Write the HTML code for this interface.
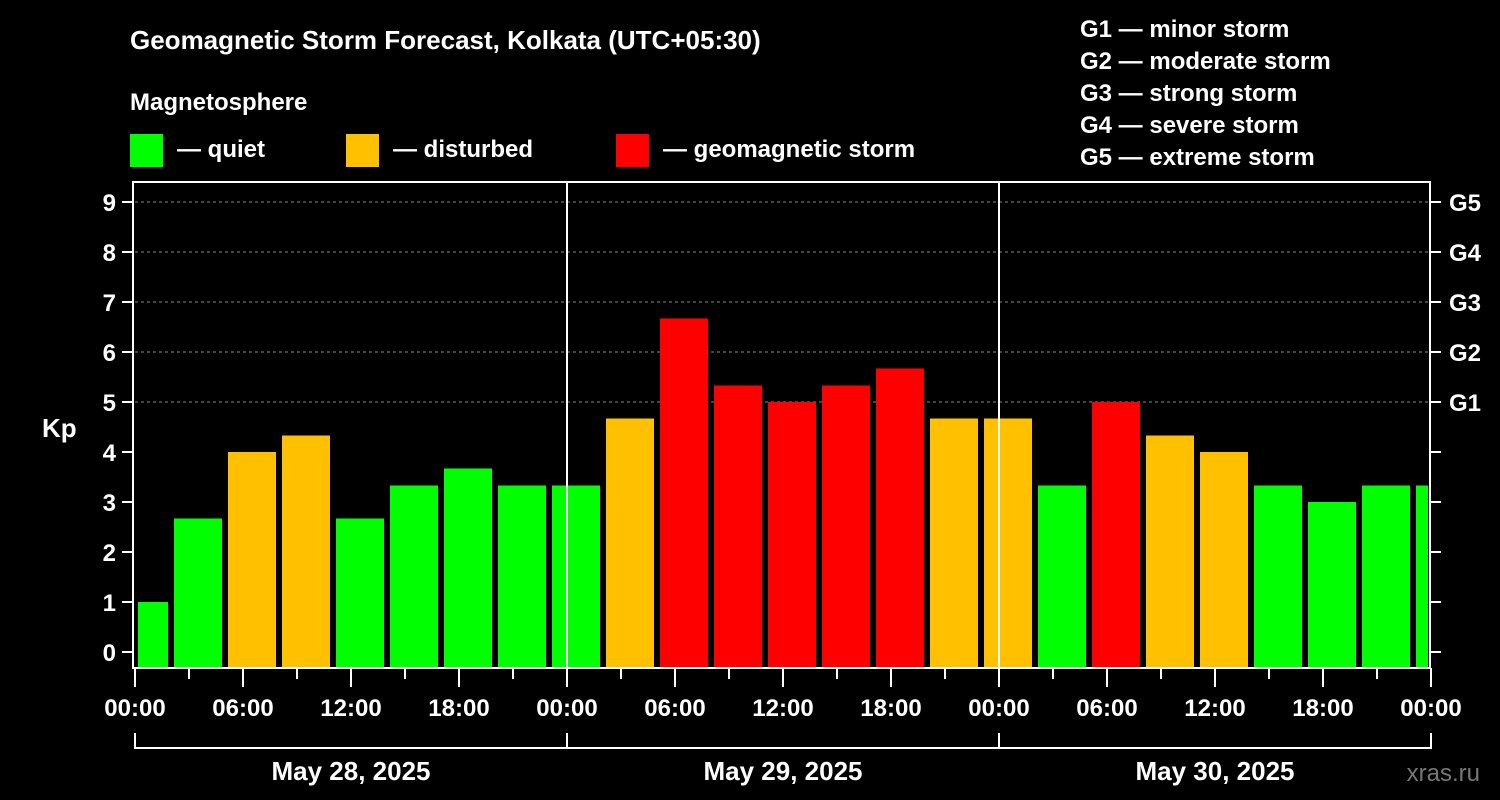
<!DOCTYPE html>
<html><head><meta charset="utf-8"><style>
html,body{margin:0;padding:0;background:#000;}
svg{display:block;font-family:"Liberation Sans",Arial,sans-serif;font-weight:bold;}
</style></head><body>
<svg id="chart" width="1500" height="800" viewBox="0 0 1500 800">
<rect x="0" y="0" width="1500" height="800" fill="#000"/>
<text x="130" y="49" font-size="26" fill="#fff">Geomagnetic Storm Forecast, Kolkata (UTC+05:30)</text>
<text x="130" y="110" font-size="24" fill="#fff">Magnetosphere</text>
<g><rect x="130" y="134" width="33" height="33" fill="#00ff00"/><text x="177" y="157" font-size="24" fill="#fff">— quiet</text></g>
<g><rect x="346" y="134" width="33" height="33" fill="#ffc000"/><text x="393" y="157" font-size="24" fill="#fff">— disturbed</text></g>
<g><rect x="616" y="134" width="33" height="33" fill="#ff0000"/><text x="663" y="157" font-size="24" fill="#fff">— geomagnetic storm</text></g>
<g font-size="24" fill="#fff">
<text x="1080" y="37">G1 — minor storm</text>
<text x="1080" y="69">G2 — moderate storm</text>
<text x="1080" y="101">G3 — strong storm</text>
<text x="1080" y="133">G4 — severe storm</text>
<text x="1080" y="165">G5 — extreme storm</text>
</g>
<text x="42" y="437" font-size="26" fill="#fff">Kp</text>
<text x="1480" y="781" font-size="24" fill="#777" text-anchor="end" font-weight="normal">xras.ru</text>
<g id="plot"></g>
</svg>
<script>
const kpValues = [1.0, 2.67, 4.0, 4.33, 2.67, 3.33, 3.67, 3.33, 3.33, 4.67, 6.67, 5.33, 5.0, 5.33, 5.67, 4.67, 4.67, 3.33, 5.0, 4.33, 4.0, 3.33, 3.0, 3.33, 3.33];
const slotStartHours = [-1, 2, 5, 8, 11, 14, 17, 20, 23, 26, 29, 32, 35, 38, 41, 44, 47, 50, 53, 56, 59, 62, 65, 68, 71];
const yTicks = [0,1,2,3,4,5,6,7,8,9];
const gLabels = ["G1","G2","G3","G4","G5"];
const hourLabels = ["00:00","06:00","12:00","18:00","00:00","06:00","12:00","18:00","00:00","06:00","12:00","18:00","00:00"];
const dayLabels = ["May 28, 2025","May 29, 2025","May 30, 2025"];

const NS="http://www.w3.org/2000/svg";
const X0=135, X1=1431, PT=182, PB=668, totalH=72;
const x = h => X0 + (h/totalH)*(X1-X0);
const y = v => 652 - v*50;
const g=document.getElementById('plot');
function mk(tag, attrs){const e=document.createElementNS(NS,tag);for(const k in attrs)e.setAttribute(k,attrs[k]);g.appendChild(e);return e;}

// grid lines
for(let v=5; v<=9; v++){
  const l=mk('line',{x1:X0,x2:X1,y1:y(v),y2:y(v),stroke:'#888','stroke-width':1,'stroke-dasharray':'3,3'});
  
  
}
// bars
kpValues.forEach((v,i)=>{
  const s=Math.max(0,slotStartHours[i]), e=Math.min(totalH,slotStartHours[i]+3);
  const color = v>=5 ? '#ff0000' : (v>=4 ? '#ffc000' : '#00ff00');
  const r=mk('rect',{x:x(s)+3,y:y(v),width:x(e)-x(s)-6,height:PB-y(v),fill:color});
  
  
});
// day separators
[24,48].forEach(h=>{
  const l=mk('line',{x1:x(h),x2:x(h),y1:PT,y2:PB,stroke:'#fff','stroke-width':2});
  
  
});
// frame
const fr=mk('rect',{x:X0-2,y:PT,width:X1-X0+1,height:PB-PT,fill:'none',stroke:'#fff','stroke-width':2});


// y ticks
yTicks.forEach(v=>{
  const t=mk('line',{x1:122,x2:X0-2,y1:y(v),y2:y(v),stroke:'#fff','stroke-width':2});
  
  
  const t2=mk('line',{x1:X1-1,x2:X1+10,y1:y(v),y2:y(v),stroke:'#fff','stroke-width':2});
  
  
  const tx=mk('text',{x:116,y:y(v)+9,'font-size':24,fill:'#fff','text-anchor':'end'});
  tx.textContent=v;
  
  
});
gLabels.forEach((lab,i)=>{
  const tx=mk('text',{x:1449,y:y(5+i)+9,'font-size':24,fill:'#fff'});
  tx.textContent=lab;
  
  
});
// x ticks
for(let h=0; h<=totalH; h+=3){
  const major=h%6===0;
  const t=mk('line',{x1:x(h),x2:x(h),y1:PB,y2:major?687:679,stroke:'#fff','stroke-width':2});
  
  
}
hourLabels.forEach((lab,i)=>{
  const tx=mk('text',{x:x(i*6),y:716,'font-size':24,fill:'#fff','text-anchor':'middle'});
  tx.textContent=lab;
  
  
});
// day bracket
const br=mk('line',{x1:X0,x2:X1,y1:748,y2:748,stroke:'#fff','stroke-width':2});


[0,24,48,72].forEach(h=>{
  const t=mk('line',{x1:x(h),x2:x(h),y1:733,y2:749,stroke:'#fff','stroke-width':2});
  
  
});
dayLabels.forEach((lab,i)=>{
  const tx=mk('text',{x:x(i*24+12),y:780,'font-size':26,fill:'#fff','text-anchor':'middle'});
  tx.textContent=lab;
  
  
});
</script>
</body></html>
